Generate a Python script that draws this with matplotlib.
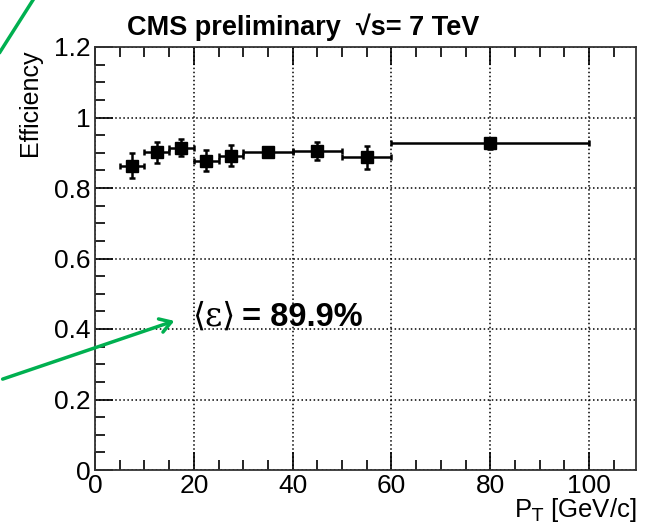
import matplotlib
matplotlib.use("Agg")
import matplotlib.pyplot as plt
from matplotlib.ticker import MultipleLocator

plt.rcParams['font.family'] = ['Liberation Sans', 'DejaVu Sans']

# pT bins [GeV/c]
bin_lo = [5, 10, 15, 20, 25, 30, 40, 50, 60]
bin_hi = [10, 15, 20, 25, 30, 40, 50, 60, 100]
eff = [0.863, 0.901, 0.914, 0.877, 0.892, 0.903, 0.905, 0.887, 0.927]
eff_err = [0.036, 0.029, 0.024, 0.030, 0.030, 0.014, 0.025, 0.033, 0.015]

centers = [(a + b) / 2 for a, b in zip(bin_lo, bin_hi)]
half_w = [(b - a) / 2 for a, b in zip(bin_lo, bin_hi)]

W, H = 646, 523
fig = plt.figure(figsize=(W / 100, H / 100), dpi=100)
ax = fig.add_axes([95 / W, 1 - 470 / H, (636 - 95) / W, (470 - 47) / H])

ax.errorbar(centers, eff, xerr=half_w, yerr=eff_err, fmt='s', color='black',
            markersize=8, elinewidth=1.8, capsize=2.5, capthick=1.8, zorder=3)

ax.set_xlim(0, 109.5)
ax.set_ylim(0, 1.2)
ax.xaxis.set_major_locator(MultipleLocator(20))
ax.xaxis.set_minor_locator(MultipleLocator(5))
ax.yaxis.set_minor_locator(MultipleLocator(0.05))
ax.set_yticks([0, 0.2, 0.4, 0.6, 0.8, 1.0, 1.2])
ax.set_yticklabels(['0', '0.2', '0.4', '0.6', '0.8', '1', '1.2'])
ax.tick_params(which='both', direction='in', top=True, right=False, labelsize=19, width=1.2)
ax.tick_params(which='major', length=13, pad=3)
ax.tick_params(which='minor', length=7)
ax.grid(True, which='major', linestyle=':', color='black', linewidth=1.1)
for s in ax.spines.values():
    s.set_linewidth(1.3)
    s.set_color('#333333')

fig.text(42 / W, 1 - 50 / H, 'Efficiency', rotation=90, ha='right', va='top', fontsize=18)
fig.text(636 / W, 1 - 496 / H, r'P$_\mathrm{T}$ [GeV/c]', ha='right', va='top', fontsize=18.5)

fig.text(303 / W, 1 - 35 / H, 'CMS preliminary  \u221as= 7 TeV', ha='center', va='baseline',
         fontsize=19.5, fontweight='bold')

fig.text(192 / W, 1 - 326 / H, '\u27e8\u03b5\u27e9', ha='left', va='baseline', fontsize=24,
         family=['DejaVu Serif', 'Liberation Serif'])
fig.text(242 / W, 1 - 326 / H, '= 89.9%', ha='left', va='baseline', fontsize=23.5, fontweight='bold')

# green annotation arrows
green = '#00b050'
fig.add_artist(plt.Line2D([33 / W, 0], [1, 1 - 52 / H], color=green, linewidth=2.5,
                          transform=fig.transFigure))
fig.patches.append(matplotlib.patches.FancyArrowPatch(
    (0, 1 - 380 / H), (177 / W, 1 - 320 / H), transform=fig.transFigure,
    arrowstyle='->,head_length=8,head_width=5', color=green, linewidth=2.5))

fig.savefig('out.png', dpi=100)
